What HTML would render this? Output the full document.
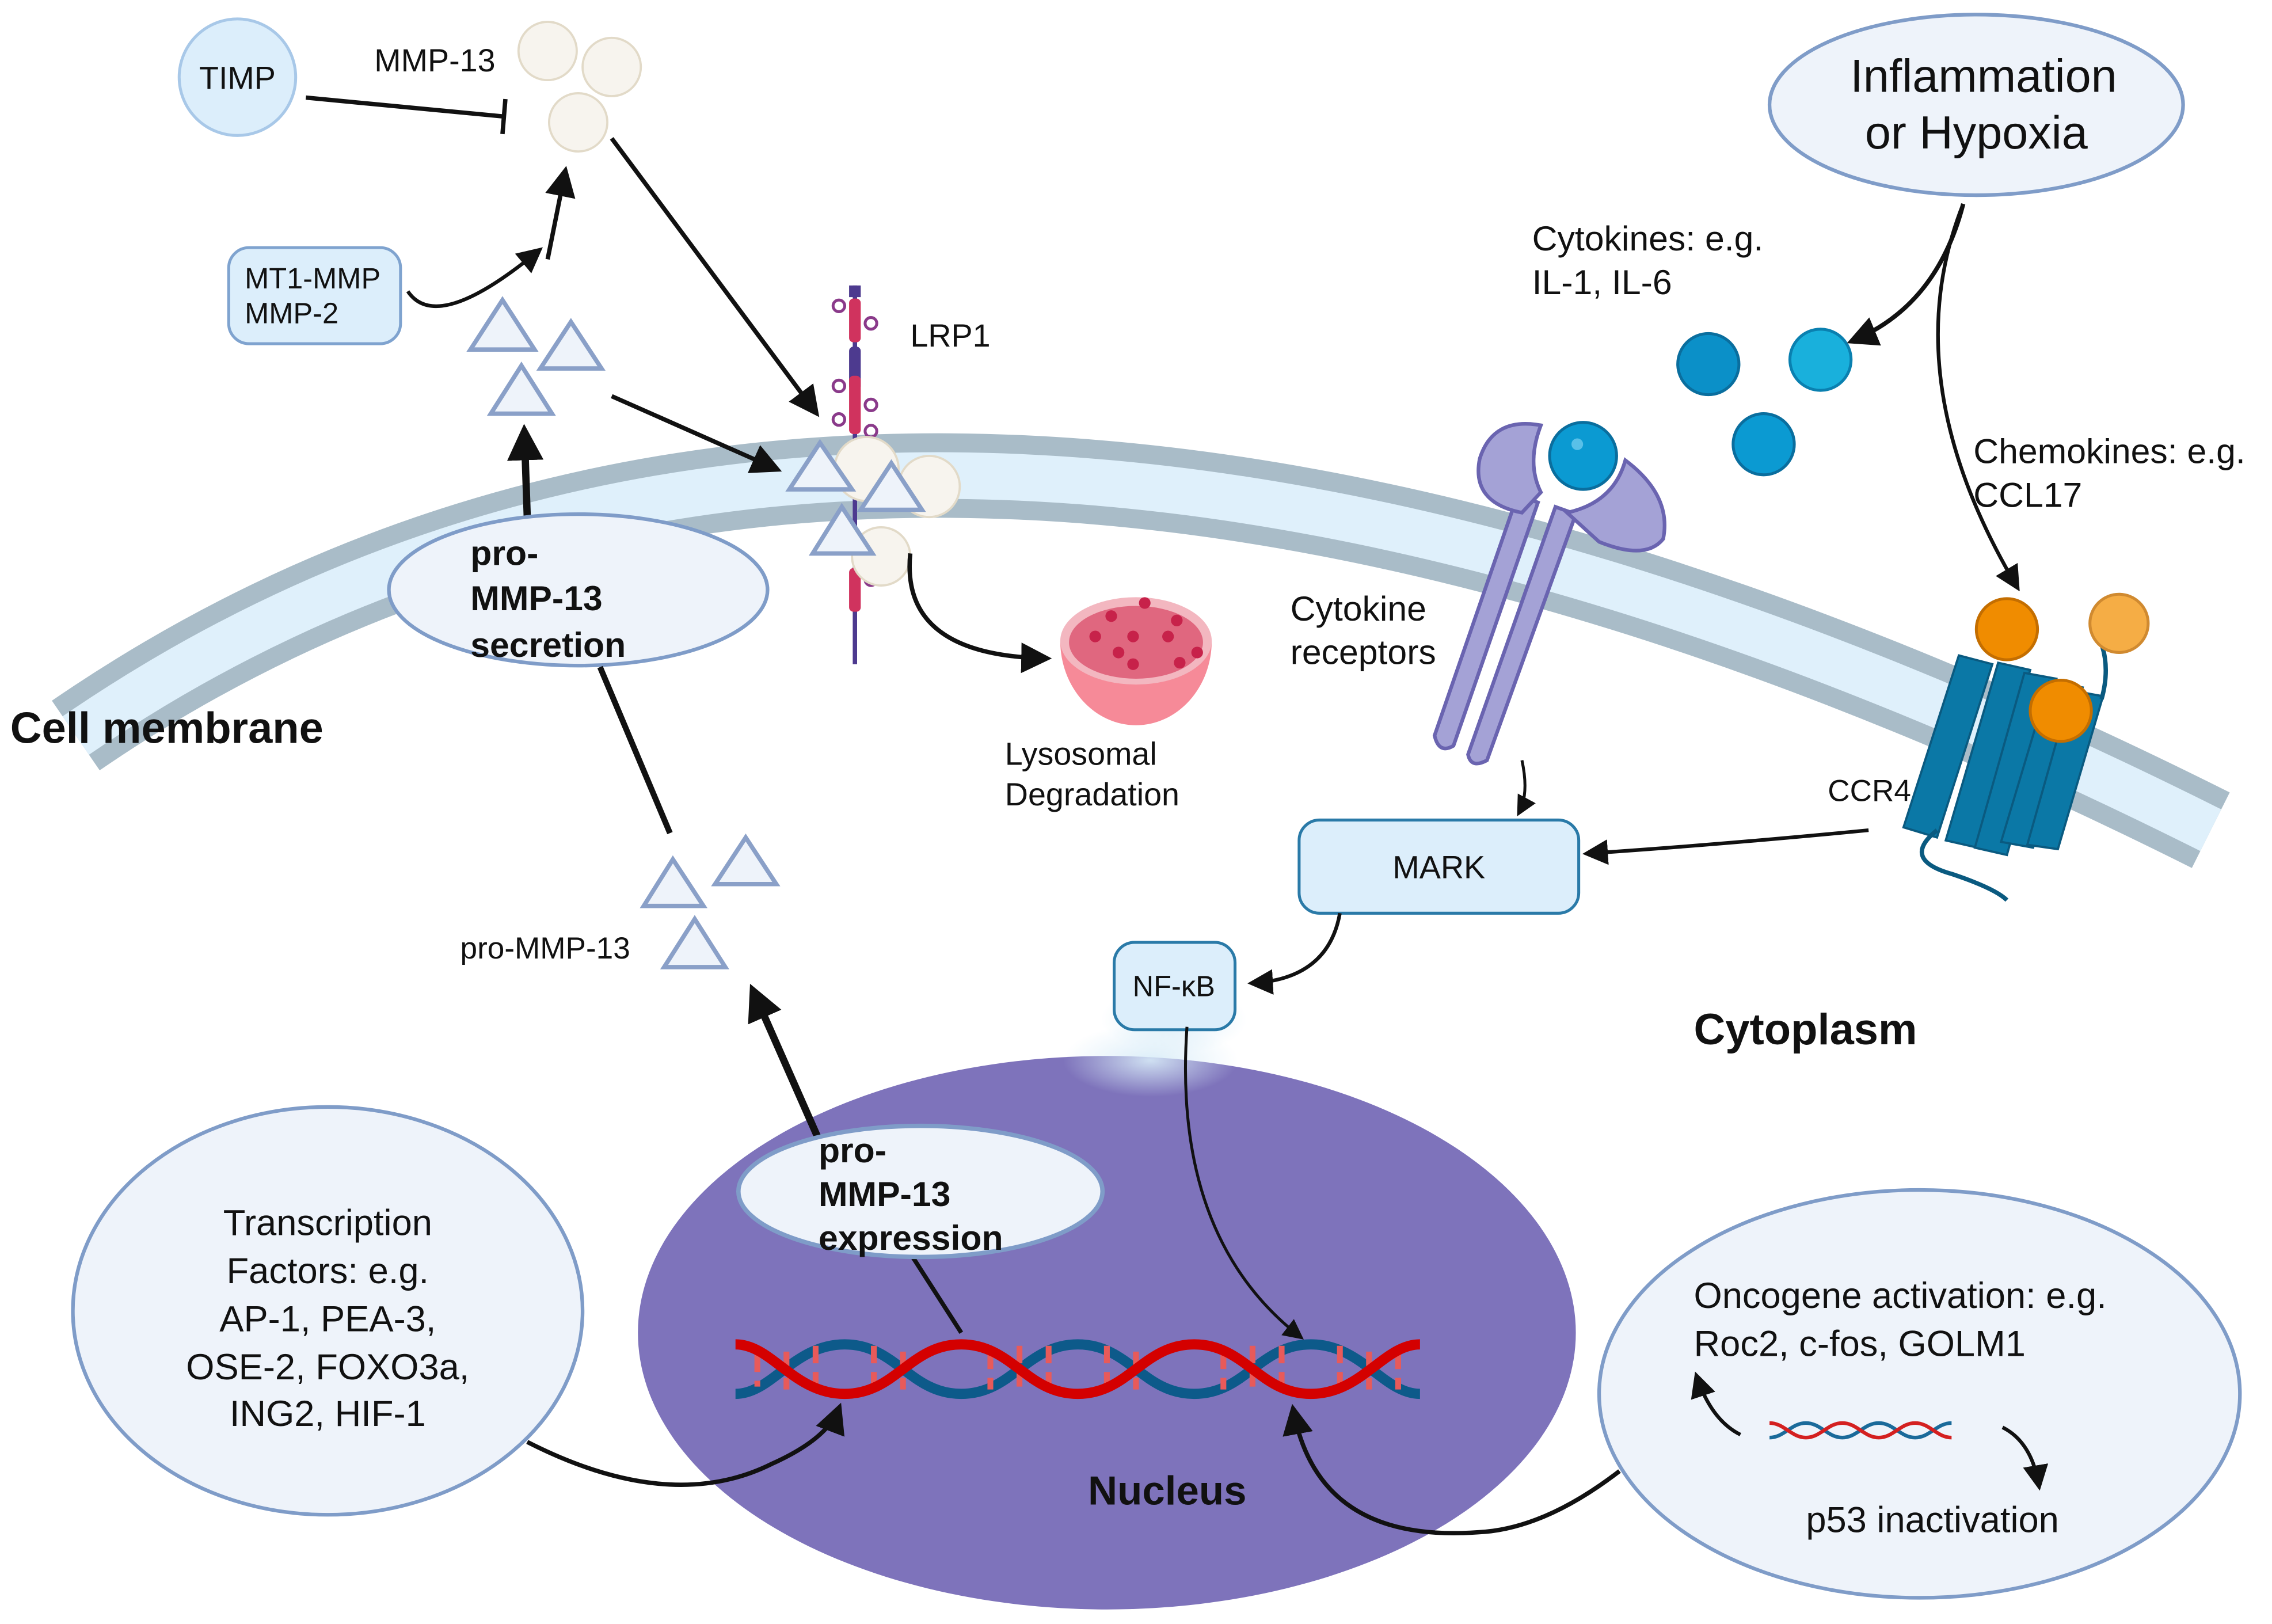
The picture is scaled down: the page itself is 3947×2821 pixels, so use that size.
<!DOCTYPE html>
<html><head><meta charset="utf-8"><style>
html,body{margin:0;padding:0;background:#fff;}
svg{display:block;}
text{font-family:"Liberation Sans",sans-serif;fill:#111;}
.b{font-weight:bold;}
</style></head><body>
<svg width="3947" height="2821" viewBox="0 0 1560 1115" xmlns="http://www.w3.org/2000/svg">
<defs>
<marker id="ah" viewBox="0 0 10 10" refX="8" refY="5" markerWidth="5" markerHeight="5" orient="auto-start-reverse"><path d="M0,0 L10,5 L0,10 z" fill="#111"/></marker>
<marker id="ahs" viewBox="0 0 10 10" refX="8" refY="5" markerWidth="7" markerHeight="7" orient="auto"><path d="M0,0 L10,5 L0,10 z" fill="#111"/></marker>
<radialGradient id="glow" cx="0.5" cy="0.5" r="0.5"><stop offset="0" stop-color="#d8ecf8" stop-opacity="0.9"/><stop offset="1" stop-color="#d8ecf8" stop-opacity="0"/></radialGradient>
</defs>

<!-- membrane -->
<path d="M52,505 Q616,118 1518,570" fill="none" stroke="#a9bcc8" stroke-width="58"/>
<path d="M52,505 Q616,118 1518,570" fill="none" stroke="#dff0fb" stroke-width="32"/>

<!-- nucleus -->
<ellipse cx="760" cy="915" rx="322" ry="190" fill="#7e73bb"/>
<ellipse cx="790" cy="728" rx="60" ry="25" fill="url(#glow)"/>

<!-- TIMP / MMP-13 -->
<circle cx="163" cy="53" r="40" fill="#dceefb" stroke="#a8c8e8" stroke-width="2"/>
<text x="163" y="61" font-size="22" text-anchor="middle">TIMP</text>
<text x="257" y="49" font-size="22">MMP-13</text>
<circle cx="376" cy="35" r="20" fill="#f7f4ee" stroke="#e2dac8" stroke-width="1.5"/>
<circle cx="420" cy="46" r="20" fill="#f7f4ee" stroke="#e2dac8" stroke-width="1.5"/>
<circle cx="397" cy="84" r="20" fill="#f7f4ee" stroke="#e2dac8" stroke-width="1.5"/>
<line x1="210" y1="67" x2="346" y2="80" stroke="#111" stroke-width="3"/>
<line x1="347" y1="68" x2="345" y2="92" stroke="#111" stroke-width="3"/>
<line x1="376" y1="178" x2="388" y2="118" stroke="#111" stroke-width="3" marker-end="url(#ahs)"/>

<rect x="157" y="170" width="118" height="66" rx="14" fill="#dceefb" stroke="#7fa3cf" stroke-width="2"/>
<text x="168" y="198" font-size="20">MT1-MMP</text>
<text x="168" y="222" font-size="20">MMP-2</text>
<path d="M280,200 Q300,230 370,172" fill="none" stroke="#111" stroke-width="2.5" marker-end="url(#ahs)"/>

<g fill="#eef3fa" stroke="#8aa0c8" stroke-width="3">
<path d="M345,206 L323,240 L367,240z"/>
<path d="M392,221 L371,253 L413,253z"/>
<path d="M358,251 L337,284 L379,284z"/>
</g>
<line x1="362" y1="355" x2="360" y2="296" stroke="#111" stroke-width="5" marker-end="url(#ah)"/>
<line x1="420" y1="272" x2="533" y2="322" stroke="#111" stroke-width="3" marker-end="url(#ahs)"/>
<line x1="420" y1="95" x2="560" y2="283" stroke="#111" stroke-width="3" marker-end="url(#ahs)"/>

<!-- LRP1 -->
<line x1="587" y1="196" x2="587" y2="456" stroke="#4d3a8f" stroke-width="3"/>
<rect x="583" y="196" width="8" height="8" fill="#4d3a8f"/>
<rect x="583" y="205" width="8" height="30" rx="3" fill="#d0335e"/>
<rect x="583" y="238" width="8" height="30" rx="3" fill="#4d3a8f"/>
<rect x="583" y="258" width="8" height="40" rx="3" fill="#d0335e"/>
<rect x="583" y="390" width="8" height="30" rx="3" fill="#d0335e"/>
<g fill="none" stroke="#8a3a8a" stroke-width="2">
<circle cx="576" cy="210" r="4"/><circle cx="598" cy="222" r="4"/>
<circle cx="576" cy="265" r="4"/><circle cx="598" cy="278" r="4"/><circle cx="576" cy="288" r="4"/><circle cx="598" cy="296" r="4"/><circle cx="598" cy="398" r="4"/>
</g>
<text x="625" y="238" font-size="22">LRP1</text>
<g fill="#f7f4ee" stroke="#e2dac8" stroke-width="1.5">
<circle cx="595" cy="322" r="22"/><circle cx="638" cy="334" r="21"/><circle cx="605" cy="382" r="20"/>
</g>
<g fill="#eef3fa" stroke="#8aa0c8" stroke-width="3">
<path d="M563,304 L542,336 L585,336z"/>
<path d="M612,318 L591,350 L633,350z"/>
<path d="M578,348 L558,380 L599,380z"/>
</g>
<path d="M625,380 Q618,450 718,452" fill="none" stroke="#111" stroke-width="3" marker-end="url(#ahs)"/>
<!-- lysosome -->
<path d="M728,440 A52,58 0 0 0 832,440 Z" fill="#f68a98"/>
<ellipse cx="780" cy="440" rx="52" ry="30" fill="#f3b7c0"/>
<ellipse cx="780" cy="441" rx="46" ry="25" fill="#e0677f"/>
<g fill="#c7224a">
<circle cx="786" cy="414" r="4"/><circle cx="763" cy="423" r="4"/><circle cx="808" cy="426" r="4"/><circle cx="752" cy="437" r="4"/><circle cx="778" cy="437" r="4"/><circle cx="802" cy="437" r="4"/><circle cx="768" cy="448" r="4"/><circle cx="822" cy="448" r="4"/><circle cx="778" cy="456" r="4"/><circle cx="810" cy="455" r="4"/>
</g>
<text x="690" y="525" font-size="22">Lysosomal</text>
<text x="690" y="553" font-size="22">Degradation</text>

<!-- secretion -->
<ellipse cx="397" cy="405" rx="130" ry="52" fill="#eef3fa" stroke="#7f9cc8" stroke-width="2.5"/>
<text x="323" y="388" font-size="24" class="b">pro-</text>
<text x="323" y="419" font-size="24" class="b">MMP-13</text>
<text x="323" y="451" font-size="24" class="b">secretion</text>
<text x="7" y="510" font-size="30" class="b">Cell membrane</text>
<line x1="460" y1="572" x2="412" y2="458" stroke="#111" stroke-width="4"/>

<g fill="#eef3fa" stroke="#8aa0c8" stroke-width="3">
<path d="M462,590 L442,622 L483,622z"/>
<path d="M512,575 L491,607 L533,607z"/>
<path d="M477,631 L456,664 L498,664z"/>
</g>
<text x="316" y="658" font-size="21">pro-MMP-13</text>
<line x1="562" y1="782" x2="517" y2="680" stroke="#111" stroke-width="5" marker-end="url(#ah)"/>

<!-- DNA -->
<g fill="none" stroke-width="7">
<path d="M505,957 C530,957 545,923 580,923 C615,923 625,957 660,957 C695,957 705,923 740,923 C775,923 785,957 820,957 C855,957 865,923 900,923 C935,923 950,957 975,957" stroke="#0d5a8a"/>
<g stroke-width="4">
<path d="M520,930v22M540,928v26M560,924v28M600,924v28M620,928v26M680,928v26M700,924v28M720,924v28M760,924v28M780,928v26M840,928v26M860,924v28M880,924v28M920,924v28M940,928v26M960,928v26" stroke="#e85a5a" stroke-dasharray="12,6"/>
</g>
<path d="M505,923 C530,923 545,957 580,957 C615,957 625,923 660,923 C695,923 705,957 740,957 C775,957 785,923 820,923 C855,923 865,957 900,957 C935,957 950,923 975,923" stroke="#d40000"/>
</g>
<!-- expression -->
<line x1="660" y1="915" x2="626" y2="862" stroke="#111" stroke-width="3"/>
<ellipse cx="632" cy="818" rx="125" ry="45" fill="#eef3fa" stroke="#7f9cc8" stroke-width="3"/>
<text x="562" y="798" font-size="24" class="b">pro-</text>
<text x="562" y="828" font-size="24" class="b">MMP-13</text>
<text x="562" y="858" font-size="24" class="b">expression</text>
<text x="747" y="1033" font-size="28" class="b">Nucleus</text>

<!-- transcription factors -->
<ellipse cx="225" cy="900" rx="175" ry="140" fill="#eef3fa" stroke="#7f9cc8" stroke-width="2.5"/>
<g font-size="25" text-anchor="middle">
<text x="225" y="848">Transcription</text>
<text x="225" y="881">Factors: e.g.</text>
<text x="225" y="914">AP-1, PEA-3,</text>
<text x="225" y="947">OSE-2, FOXO3a,</text>
<text x="225" y="979">ING2, HIF-1</text>
</g>
<path d="M362,990 Q460,1040 530,1005 Q568,988 576,967" fill="none" stroke="#111" stroke-width="3" marker-end="url(#ahs)"/>

<!-- oncogene -->
<ellipse cx="1318" cy="957" rx="220" ry="140" fill="#eef3fa" stroke="#7f9cc8" stroke-width="2.5"/>
<text x="1163" y="898" font-size="25">Oncogene activation: e.g.</text>
<text x="1163" y="931" font-size="25">Roc2, c-fos, GOLM1</text>
<text x="1240" y="1052" font-size="25">p53 inactivation</text>
<g fill="none" stroke-width="2.5">
<path d="M1215,987 C1225,987 1230,977 1240,977 C1250,977 1255,987 1265,987 C1275,987 1280,977 1290,977 C1300,977 1305,987 1315,987 C1325,987 1330,977 1340,977" stroke="#1a6a9a"/>
<path d="M1215,977 C1225,977 1230,987 1240,987 C1250,987 1255,977 1265,977 C1275,977 1280,987 1290,987 C1300,987 1305,977 1315,977 C1325,977 1330,987 1340,987" stroke="#d42020"/>
</g>
<path d="M1195,985 Q1175,975 1165,945" fill="none" stroke="#111" stroke-width="2.5" marker-end="url(#ahs)"/>
<path d="M1375,980 Q1395,990 1400,1020" fill="none" stroke="#111" stroke-width="2.5" marker-end="url(#ahs)"/>
<path d="M1112,1010 Q1060,1050 1015,1052 Q905,1060 888,968" fill="none" stroke="#111" stroke-width="3" marker-end="url(#ahs)"/>

<!-- NF-kB / MARK -->
<ellipse cx="806" cy="700" rx="50" ry="24" fill="url(#glow)"/>
<rect x="765" y="647" width="83" height="60" rx="14" fill="#dceefb" stroke="#2a7aa8" stroke-width="2"/>
<text x="806" y="684" font-size="20" text-anchor="middle">NF-κB</text>
<path d="M815,705 Q805,850 893,918" fill="none" stroke="#111" stroke-width="2" marker-end="url(#ahs)"/>
<rect x="892" y="563" width="192" height="64" rx="14" fill="#dceefb" stroke="#2a7aa8" stroke-width="2"/>
<text x="988" y="603" font-size="22" text-anchor="middle">MARK</text>
<path d="M920,627 Q912,672 860,675" fill="none" stroke="#111" stroke-width="2.5" marker-end="url(#ahs)"/>
<path d="M1045,522 Q1050,545 1043,558" fill="none" stroke="#111" stroke-width="2" marker-end="url(#ahs)"/>
<path d="M1283,570 Q1180,580 1090,586" fill="none" stroke="#111" stroke-width="2.5" marker-end="url(#ahs)"/>
<text x="1255" y="550" font-size="21">CCR4</text>
<text x="1163" y="717" font-size="30" class="b">Cytoplasm</text>

<!-- cytokine receptor -->
<text x="886" y="426" font-size="24">Cytokine</text>
<text x="886" y="456" font-size="24">receptors</text>
<g fill="#a4a2d6" stroke="#6a64b0" stroke-width="2.5">
<path d="M985,505 L1042,340 L1056,345 L998,512 Q988,518 985,505z"/>
<path d="M1008,518 L1068,348 L1082,353 L1021,522 Q1010,528 1008,518z"/>
<path d="M1058,292 Q1025,286 1016,315 Q1010,345 1045,352 L1058,338 Q1048,318 1058,292z"/>
<path d="M1116,316 Q1148,340 1142,370 Q1130,385 1098,372 L1076,352 Q1108,345 1116,316z"/>
</g>
<circle cx="1087" cy="313" r="23" fill="#0b9ad2" stroke="#0a6e9e" stroke-width="2"/>
<circle cx="1083" cy="305" r="4" fill="#59c0e8"/>

<!-- inflammation -->
<ellipse cx="1357" cy="72" rx="142" ry="62" fill="#eef3fa" stroke="#7f9cc8" stroke-width="2.5"/>
<text x="1362" y="63" font-size="32" text-anchor="middle">Inflammation</text>
<text x="1357" y="102" font-size="32" text-anchor="middle">or Hypoxia</text>
<text x="1052" y="172" font-size="24">Cytokines: e.g.</text>
<text x="1052" y="202" font-size="24">IL-1, IL-6</text>
<circle cx="1173" cy="250" r="21" fill="#0b90c8" stroke="#0a6e9e" stroke-width="2"/>
<circle cx="1250" cy="247" r="21" fill="#19b0dc" stroke="#0a80b0" stroke-width="2"/>
<circle cx="1211" cy="305" r="21" fill="#0b9ad2" stroke="#0a6e9e" stroke-width="2"/>
<path d="M1348,140 Q1330,210 1272,234" fill="none" stroke="#111" stroke-width="3" marker-end="url(#ahs)"/>
<path d="M1348,140 Q1300,260 1385,403" fill="none" stroke="#111" stroke-width="2.5" marker-end="url(#ahs)"/>
<text x="1355" y="318" font-size="24">Chemokines: e.g.</text>
<text x="1355" y="348" font-size="24">CCL17</text>

<!-- CCR4 -->
<g fill="#0b78a6" stroke="#0a5a80" stroke-width="1.5">
<path d="M1345,450 L1368,456 L1330,575 L1307,568z"/>
<path d="M1372,455 L1394,460 L1358,582 L1336,577z"/>
<path d="M1390,462 L1412,466 L1378,587 L1356,582z"/>
<path d="M1407,468 L1430,472 L1396,582 L1374,578z"/>
<path d="M1422,474 L1444,478 L1413,583 L1392,580z"/>
</g>
<path d="M1330,570 Q1305,590 1340,600 Q1370,610 1378,618" fill="none" stroke="#0a5a80" stroke-width="3"/>
<path d="M1443,480 Q1450,455 1440,435" fill="none" stroke="#0a5a80" stroke-width="3"/>
<circle cx="1378" cy="432" r="21" fill="#f08c00" stroke="#c46e00" stroke-width="2"/>
<circle cx="1455" cy="428" r="20" fill="#f5ad45" stroke="#d08a30" stroke-width="2"/>
<circle cx="1415" cy="488" r="21" fill="#f08c00" stroke="#c46e00" stroke-width="2"/>
</svg>
</body></html>
